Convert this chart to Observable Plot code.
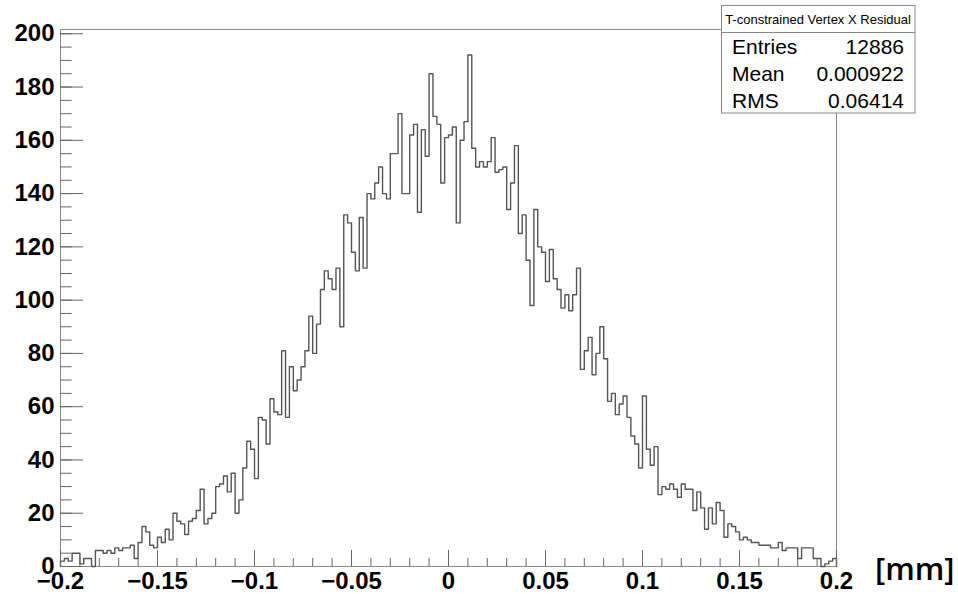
<!DOCTYPE html>
<html>
<head>
<meta charset="utf-8">
<script src="https://cdn.jsdelivr.net/npm/d3@7"></script>
<script src="https://cdn.jsdelivr.net/npm/@observablehq/plot@0.6"></script>
<style>
html, body { margin: 0; padding: 0; background: #fff; }
#wrap { position: relative; width: 958px; height: 594px; overflow: hidden; }
#overlay { position: absolute; left: 0; top: 0; pointer-events: none; }
</style>
</head>
<body>
<div id="wrap"><div id="chart"></div></div>
<script>
// Histogram definition (ROOT TH1: 200 bins from -0.2 to 0.2)
const binLow = -0.2;
const binHigh = 0.2;
const counts = [
  2, 3, 2, 5, 5, 1, 3, 3, 0, 6,
  6, 5, 6, 5, 7, 6, 7, 7, 8, 3,
  9, 15, 13, 8, 7, 11, 9, 14, 10, 20,
  17, 16, 12, 17, 18, 21, 29, 16, 18, 20,
  30, 31, 34, 28, 35, 20, 25, 37, 47, 44,
  33, 56, 55, 46, 63, 58, 57, 81, 56, 75,
  66, 70, 75, 81, 94, 80, 91, 104, 111, 108,
  104, 112, 90, 132, 129, 118, 111, 131, 112, 140,
  138, 144, 150, 140, 138, 155, 155, 170, 140, 140,
  162, 166, 133, 164, 154, 185, 169, 166, 144, 161,
  162, 165, 129, 160, 167, 192, 157, 150, 152, 150,
  152, 161, 148, 149, 150, 134, 144, 158, 125, 132,
  115, 98, 134, 120, 118, 107, 119, 108, 104, 97,
  102, 96, 102, 112, 74, 81, 86, 72, 80, 90,
  78, 62, 65, 57, 61, 64, 56, 49, 46, 37,
  64, 44, 38, 45, 27, 30, 29, 31, 29, 26,
  31, 29, 29, 21, 28, 22, 14, 22, 16, 24,
  21, 11, 16, 15, 13, 10, 11, 10, 9, 9,
  8, 8, 8, 7, 7, 9, 6, 7, 7, 7,
  3, 7, 7, 7, 3, 3, 0, 1, 2, 3
];
const yMax = 201.6; // 1.05 x maximum bin

const xTicksMajor = [-0.2, -0.15, -0.1, -0.05, 0, 0.05, 0.1, 0.15, 0.2];
const xTickLabels = ["\u22120.2", "\u22120.15", "\u22120.1", "\u22120.05", "0", "0.05", "0.1", "0.15", "0.2"];
const xTicksMinor = d3.range(-20, 21).map(i => i / 100);
const yTicksMajor = [0, 20, 40, 60, 80, 100, 120, 140, 160, 180, 200];
const yTicksMinor = d3.range(0, 201, 5);

const statsTitle = "T-constrained Vertex X Residual";
const statsNames = ["Entries", "Mean", "RMS"];
const statsValues = ["12886", "0.000922", "0.06414"];
const unitLabel = "[mm]";

const binWidth = (binHigh - binLow) / counts.length;
const outline = [{x: binLow, y: 0}]
  .concat(counts.map((c, i) => ({x: binLow + i * binWidth, y: c})))
  .concat([{x: binHigh, y: counts[counts.length - 1]}, {x: binHigh, y: 0}]);

const font = '"Liberation Sans", Arial, Helvetica, sans-serif';

const chart = Plot.plot({
  width: 958,
  height: 594,
  marginLeft: 60,
  marginRight: 122,
  marginTop: 29,
  marginBottom: 28,
  style: {fontFamily: font, background: "#fff", color: "#000", overflow: "visible"},
  x: {domain: [binLow, binHigh]},
  y: {domain: [0, yMax]},
  marks: [
    Plot.frame({stroke: "#888", strokeWidth: 1}),
    Plot.line(outline, {x: "x", y: "y", curve: "step-after", stroke: "#555", strokeWidth: 1.4}),
    Plot.axisX(xTicksMinor, {tickSize: -8, tickFormat: () => "", label: null, stroke: "#666"}),
    Plot.axisX(xTicksMajor, {tickSize: -16, tickFormat: () => "", label: null, stroke: "#666"}),
    Plot.axisX(xTicksMajor, {tickSize: 0, tickPadding: 5, label: null, fontSize: 24, fontWeight: "bold",
      tickFormat: d => xTickLabels[xTicksMajor.indexOf(d)]}),
    Plot.axisY(yTicksMinor, {tickSize: -11.7, tickFormat: () => "", label: null, stroke: "#666"}),
    Plot.axisY(yTicksMajor, {tickSize: -23, tickFormat: () => "", label: null, stroke: "#666"}),
    Plot.axisY(yTicksMajor, {tickSize: 0, tickPadding: 6, label: null, fontSize: 24, fontWeight: "bold",
      tickFormat: d => String(d)})
  ]
});
document.getElementById("chart").appendChild(chart);

// Stats box (ROOT TPaveStats) and axis unit label, drawn as an overlay
const ov = d3.select("#wrap").append("svg")
  .attr("id", "overlay").attr("width", 958).attr("height", 594);
const box = ov.append("g").attr("font-family", font);
box.append("rect").attr("x", 721.5).attr("y", 5.5).attr("width", 193.5).attr("height", 107.5)
  .attr("fill", "#fff").attr("stroke", "#888");
box.append("line").attr("x1", 721.5).attr("x2", 915).attr("y1", 32.5).attr("y2", 32.5).attr("stroke", "#888");
box.append("text").attr("x", 818).attr("y", 24).attr("text-anchor", "middle")
  .attr("font-size", 13).text(statsTitle);
const baselines = [54, 81, 107.5];
statsNames.forEach((n, i) => {
  box.append("text").attr("x", 732).attr("y", baselines[i]).attr("font-size", 21).text(n);
  box.append("text").attr("x", 904).attr("y", baselines[i]).attr("text-anchor", "end")
    .attr("font-size", 21).text(statsValues[i]);
});
ov.append("text").attr("x", 875).attr("y", 580).attr("font-family", '"Open Sans", "Noto Sans", sans-serif')
  .attr("font-weight", 600).attr("font-size", 31).text(unitLabel);
</script>
</body>
</html>
